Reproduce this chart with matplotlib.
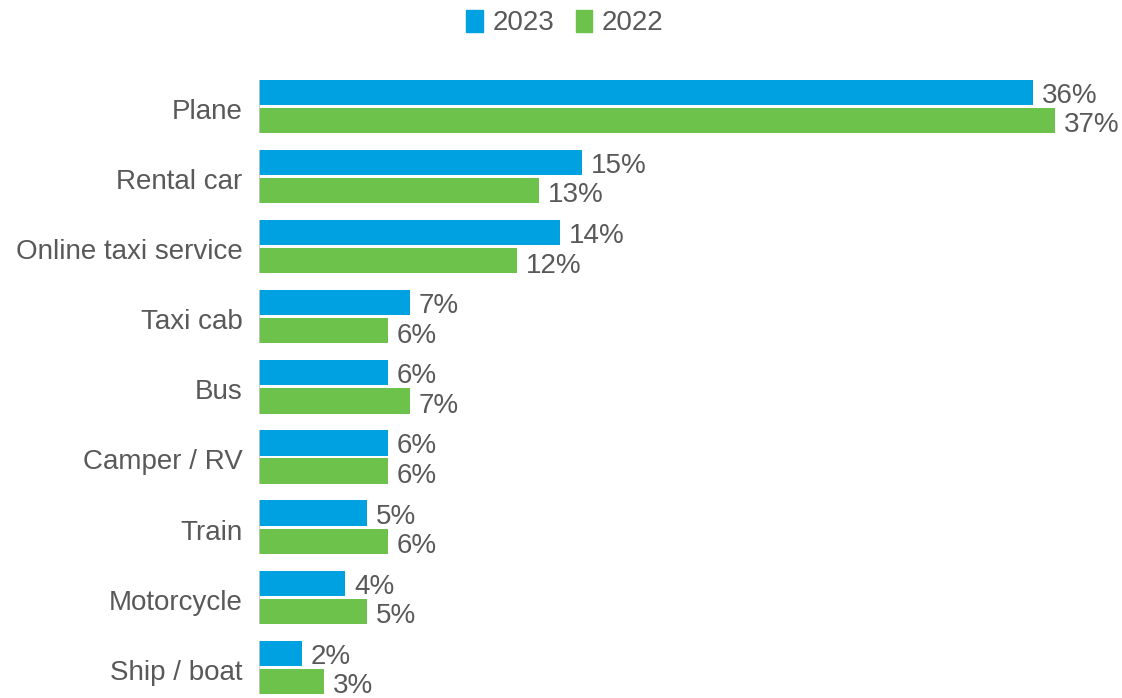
import matplotlib.pyplot as plt
from matplotlib.patches import Patch
from matplotlib.transforms import ScaledTranslation
import numpy as np

plt.rcParams['font.family'] = ['Liberation Sans', 'DejaVu Sans']

categories = ["Plane", "Rental car", "Online taxi service", "Taxi cab", "Bus",
              "Camper / RV", "Train", "Motorcycle", "Ship / boat"]
values_2023 = [36, 15, 14, 7, 6, 6, 5, 4, 2]
values_2022 = [37, 13, 12, 6, 7, 6, 6, 5, 3]

blue = "#00a1e0"
green = "#6cc24a"
text_col = "#595959"
fs = 20

fig = plt.figure(figsize=(11.22, 6.98), dpi=100)
ax = fig.add_axes([259 / 1122, 0, 1 - 259 / 1122, 1 - 60 / 698])

y = np.arange(len(categories))
h = 0.36
ax.barh(y - 0.2, values_2023, height=h, color=blue)
ax.barh(y + 0.2, values_2022, height=h, color=green)

# thin gray baseline beside each pair of bars
ax.vlines(np.zeros(len(y)), y - 0.2 - h / 2, y + 0.2 + h / 2, color="#c8c8c8", lw=1.2)

for yi, v in zip(y, values_2023):
    ax.annotate(f"{v}%", (v, yi - 0.2), xytext=(6.5, -2.5), textcoords="offset points",
                va="center", ha="left", fontsize=fs, color=text_col)
for yi, v in zip(y, values_2022):
    ax.annotate(f"{v}%", (v, yi + 0.2), xytext=(6.5, -3.5), textcoords="offset points",
                va="center", ha="left", fontsize=fs, color=text_col)

ax.set_xlim(0, 863 / 21.5)
ax.set_ylim((698 - 106.5) / 70.1, (60 - 106.5) / 70.1)
ax.set_yticks(y)
ax.set_yticklabels(categories, fontsize=fs, color=text_col)
ax.tick_params(axis="y", length=0, pad=12)
# nudge category labels a touch below the pair centre
shift = ScaledTranslation(0, -2.5 / 100, fig.dpi_scale_trans)
for lab in ax.get_yticklabels():
    lab.set_transform(lab.get_transform() + shift)
ax.set_xticks([])
for s in ax.spines.values():
    s.set_visible(False)

handles = [Patch(color=blue, label="2023"), Patch(color=green, label="2022")]
leg = fig.legend(handles=handles, loc="upper center", bbox_to_anchor=(0.5036, 1.002),
                 ncol=2, frameon=False, fontsize=fs, handlelength=0.58,
                 handleheight=0.86, handletextpad=0.35, columnspacing=0.8,
                 borderaxespad=0.0)
for t in leg.get_texts():
    t.set_color(text_col)

fig.savefig("out.png", dpi=100)
